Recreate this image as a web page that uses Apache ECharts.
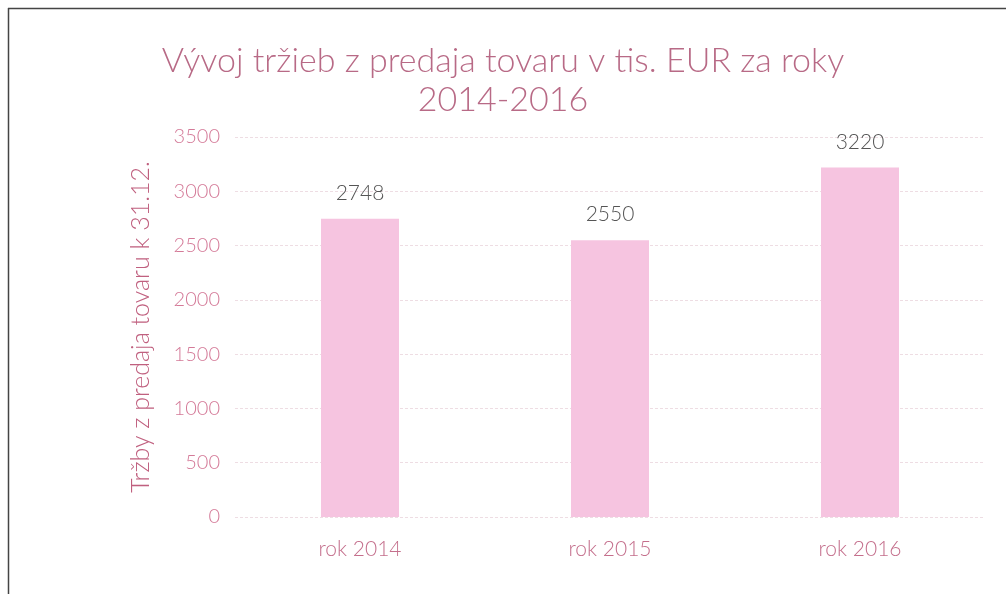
<!DOCTYPE html>
<html><head><meta charset="utf-8">
<script src="https://cdn.jsdelivr.net/npm/echarts@6/dist/echarts.min.js"></script>
<style>html,body{margin:0;padding:0;background:#fff;}#c{width:1006px;height:594px;}</style>
</head><body><div id="c"></div>
<script>
const categories = ['rok 2014', 'rok 2015', 'rok 2016'];
const values = [2748, 2550, 3220];
const titleText = 'Vývoj tržieb z predaja tovaru v tis. EUR za roky\n2014-2016';
const yAxisName = 'Tržby z predaja tovaru k 31.12.';

const chart = echarts.init(document.getElementById('c'));
const font = 'Lato, "Open Sans", sans-serif';
chart.setOption({
  backgroundColor: '#fff',
  animation: false,
  graphic: [
    { type: 'line', shape: { x1: 8, y1: 8.5, x2: 1006, y2: 8.5 }, style: { stroke: '#444', lineWidth: 1.5 } },
    { type: 'line', shape: { x1: 8.5, y1: 8, x2: 8.5, y2: 594 }, style: { stroke: '#444', lineWidth: 1.5 } }
  ],
  title: {
    text: titleText,
    left: 'center', top: 37,
    textStyle: { fontFamily: font, fontSize: 34, fontWeight: 300, color: '#b86a86', lineHeight: 39 }
  },
  grid: { left: 235, right: 21, top: 137, bottom: 77, containLabel: false },
  xAxis: {
    type: 'category', data: categories,
    axisLine: { show: false }, axisTick: { show: false },
    axisLabel: { fontFamily: font, fontSize: 21, fontWeight: 300, color: '#c46f8c', margin: 22 }
  },
  yAxis: {
    type: 'value', min: 0, max: 3500, interval: 500,
    name: yAxisName, nameLocation: 'middle', nameGap: 82,
    nameTextStyle: { fontFamily: font, fontSize: 25, fontWeight: 300, color: '#c0607f' },
    axisLine: { show: false }, axisTick: { show: false },
    axisLabel: { fontFamily: font, fontSize: 20, fontWeight: 300, color: '#d47a98', margin: 15, formatter: v => String(v) },
    splitLine: { lineStyle: { color: '#eedde3', type: [3, 2], width: 1 } }
  },
  series: [{
    type: 'bar', data: values, barWidth: 78,
    itemStyle: { color: '#f6c4e0' },
    label: { show: true, position: 'top', distance: 15, fontFamily: font, fontSize: 21, fontWeight: 300, color: '#555' }
  }]
});
</script></body></html>
